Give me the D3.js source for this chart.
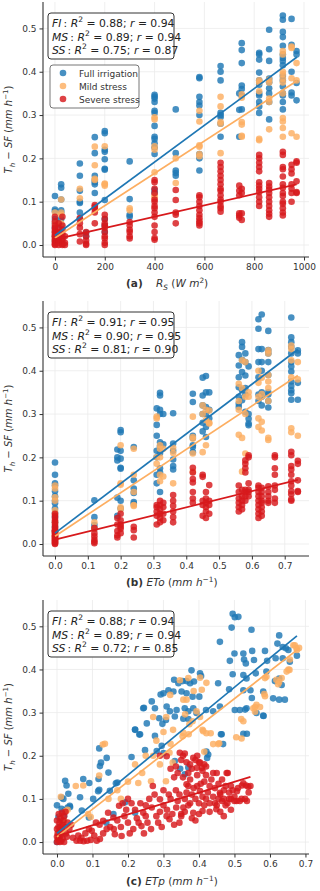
<!DOCTYPE html>
<html><head><meta charset="utf-8">
<script src="https://cdn.jsdelivr.net/npm/d3@7"></script>
<style>body{margin:0;background:#fff}svg{display:block}text{font-family:"DejaVu Sans",sans-serif;white-space:pre}</style>
</head><body><svg id="c" width="320" height="891"></svg>
<script>
// ---------- DATA ----------
const seriesNames = ["Full irrigation", "Mild stress", "Severe stress"];
const yTicks = [0, 0.1, 0.2, 0.3, 0.4, 0.5];
const xTicksA = [0, 200, 400, 600, 800, 1000];
const xTicksB = [0, 0.1, 0.2, 0.3, 0.4, 0.5, 0.6, 0.7];
const xTicksC = [0, 0.1, 0.2, 0.3, 0.4, 0.5, 0.6, 0.7];

// panel (a): Rs columns [Rs, [Th-SF values]]
const rsFI = [
[0,[0.113,0.082,0.078,0.06,0.05,0.04,0.03,0.02,0.01]],
[25,[0.14,0.132,0.105,0.08,0.075,0.06,0.045,0.03,0.02]],
[100,[0.188,0.16,0.125,0.1,0.097,0.075,0.06]],
[125,[0.028,0.02]],
[160,[0.249,0.212,0.16,0.15,0.145,0.14,0.12]],
[200,[0.263,0.258,0.22,0.215,0.198,0.176,0.174,0.104,0.06,0.045,0.03]],
[300,[0.193,0.106,0.07,0.065]],
[400,[0.347,0.343,0.338,0.33,0.31,0.305,0.275,0.25,0.245,0.235,0.225,0.21,0.127,0.12]],
[485,[0.313,0.212,0.172,0.166,0.16]],
[580,[0.388,0.385,0.342,0.33,0.322,0.3,0.21,0.2,0.172]],
[665,[0.413,0.4,0.38,0.305,0.3,0.295,0.28,0.25]],
[740,[0.35,0.312,0.25]],
[750,[0.466,0.45,0.42,0.368,0.36,0.345,0.313]],
[820,[0.444,0.44,0.428,0.398,0.38,0.37,0.35,0.345,0.33,0.32,0.305]],
[860,[0.497,0.452,0.425,0.384,0.376,0.362,0.35,0.33,0.29]],
[915,[0.53,0.52,0.492,0.48,0.46,0.44,0.432,0.425,0.415,0.39,0.38,0.366,0.35,0.345,0.33,0.313]],
[950,[0.522,0.462,0.4,0.352,0.345]],
[970,[0.448,0.44,0.374,0.334]]
];
const rsMS = [
[0,[0.075,0.05,0.03,0.02,0.01]],
[25,[0.105,0.075,0.07,0.05]],
[100,[0.13,0.108]],
[160,[0.227,0.184,0.153,0.15]],
[200,[0.228,0.142,0.14,0.137]],
[300,[0.085,0.08]],
[400,[0.295,0.29,0.228,0.22,0.168,0.115,0.11]],
[485,[0.2,0.143]],
[580,[0.31,0.285,0.23,0.227,0.21,0.205]],
[665,[0.342,0.32,0.284,0.28,0.212]],
[750,[0.348,0.34,0.284,0.278,0.252,0.25]],
[820,[0.38,0.375,0.355,0.245,0.242]],
[860,[0.382,0.375,0.338,0.33,0.267]],
[915,[0.448,0.44,0.4,0.394,0.384,0.375,0.35,0.293,0.285,0.27,0.25]],
[950,[0.458,0.455,0.385,0.258]],
[970,[0.42,0.38,0.25]]
];
const rsSS = [
[0,[0.065,0.055,0.045,0.04,0.035,0.03,0.025,0.02,0.015,0.01,0.005,0.0,0.002]],
[15,[0.05,0.04,0.03,0.025,0.02,0.015,0.01,0.005,0.0]],
[30,[0.065,0.045,0.035,0.025,0.015,0.01,0.003,0.0]],
[40,[0.02,0.005,0.0]],
[100,[0.062,0.05,0.04,0.025,0.008]],
[125,[0.03,0.02,0.01,0.003,0.0]],
[160,[0.092,0.088,0.083,0.075,0.05]],
[200,[0.07,0.06,0.05,0.045,0.04,0.03,0.02,0.015,0.005,0.0]],
[300,[0.053,0.045,0.035,0.03,0.02,0.015]],
[400,[0.15,0.145,0.13,0.12,0.105,0.1,0.09,0.085,0.075,0.065,0.045,0.03,0.016,0.012]],
[485,[0.127,0.104,0.075,0.07,0.05]],
[580,[0.115,0.11,0.1,0.09,0.08,0.07,0.062,0.055,0.05,0.045]],
[665,[0.19,0.18,0.17,0.16,0.15,0.14,0.13,0.125,0.115,0.105,0.1,0.09,0.085,0.077]],
[740,[0.137,0.125,0.115,0.073,0.068,0.063]],
[750,[0.13,0.12,0.073,0.058]],
[820,[0.208,0.2,0.19,0.18,0.17,0.145,0.137,0.13,0.122,0.11,0.1,0.09]],
[860,[0.143,0.135,0.128,0.12,0.11,0.1,0.09,0.08,0.072,0.065]],
[915,[0.215,0.208,0.18,0.175,0.158,0.14,0.132,0.12,0.113,0.1,0.095,0.085,0.075,0.068]],
[950,[0.185,0.175,0.165,0.14,0.13,0.12,0.1]],
[970,[0.193,0.19,0.147,0.122,0.12]]
];

// panel (b): ETo columns
const etoFI = [
[0,[0.188,0.16,0.14,0.135,0.122,0.11,0.1,0.094,0.082,0.072,0.063,0.05,0.04,0.03]],
[0.12,[0.101,0.062,0.044,0.035]],
[0.19,[0.218,0.2,0.193,0.107,0.065]],
[0.2,[0.263,0.258,0.215,0.197,0.176,0.174,0.1,0.082]],
[0.24,[0.224,0.147,0.128,0.118,0.097,0.093]],
[0.31,[0.313,0.275,0.25,0.215,0.2,0.16,0.14]],
[0.32,[0.349,0.343,0.31,0.3,0.235,0.225,0.21,0.175,0.165,0.12]],
[0.33,[0.3,0.23]],
[0.36,[0.302,0.232,0.215,0.195,0.18,0.172]],
[0.42,[0.347,0.328,0.25,0.245,0.228,0.224,0.212]],
[0.45,[0.384,0.343,0.32,0.3,0.28,0.26]],
[0.46,[0.388,0.35,0.316,0.3,0.27,0.247]],
[0.47,[0.35,0.31,0.29]],
[0.56,[0.436,0.412,0.385,0.362,0.34,0.324,0.316]],
[0.57,[0.466,0.455,0.425,0.397,0.355,0.332]],
[0.58,[0.44,0.42,0.389,0.36,0.345,0.305]],
[0.59,[0.41,0.3,0.289,0.278,0.274]],
[0.62,[0.519,0.497,0.45,0.42,0.385,0.345,0.33]],
[0.63,[0.53,0.45,0.42,0.4,0.35,0.34,0.32]],
[0.65,[0.492,0.448,0.44,0.42,0.39,0.35,0.345,0.33,0.315]],
[0.72,[0.523,0.477,0.466,0.455,0.44,0.42,0.41,0.398,0.375,0.365,0.355,0.348,0.333]],
[0.74,[0.447,0.44,0.372,0.333]]
];
const etoMS = [
[0,[0.135,0.128,0.108,0.1,0.078,0.07,0.05,0.03,0.02]],
[0.12,[0.05,0.035]],
[0.2,[0.228,0.14,0.137,0.085,0.08]],
[0.24,[0.22,0.16,0.12,0.09,0.088]],
[0.31,[0.294,0.29,0.2,0.185]],
[0.32,[0.228,0.22,0.2,0.16,0.145]],
[0.33,[0.22,0.156]],
[0.36,[0.222,0.21,0.14]],
[0.42,[0.294,0.247,0.243,0.209,0.167]],
[0.45,[0.32,0.3,0.212]],
[0.46,[0.31,0.286,0.228]],
[0.47,[0.308,0.28,0.278]],
[0.56,[0.37,0.33,0.31,0.252]],
[0.57,[0.424,0.36,0.245,0.167]],
[0.58,[0.42,0.34,0.3,0.209]],
[0.59,[0.35,0.34]],
[0.62,[0.4,0.372,0.34,0.29,0.27]],
[0.63,[0.384,0.346,0.282,0.262]],
[0.65,[0.447,0.44,0.39,0.375,0.36,0.33,0.245,0.24]],
[0.72,[0.458,0.45,0.424,0.385,0.267,0.258]],
[0.74,[0.42,0.38,0.25]]
];
const etoSS = [
[0,[0.07,0.065,0.06,0.055,0.05,0.045,0.04,0.036,0.032,0.028,0.024,0.02,0.016,0.012,0.008,0.004,0.0,0.002,0.03,0.01,0.006,0.014,0.018,0.026]],
[0.12,[0.037,0.025,0.018,0.01,0.005,0.002]],
[0.19,[0.06,0.045,0.03,0.02,0.015]],
[0.2,[0.07,0.055,0.045,0.04,0.035,0.025]],
[0.24,[0.04,0.032,0.015]],
[0.31,[0.09,0.085,0.075,0.065,0.045]],
[0.32,[0.1,0.09,0.08,0.07,0.06,0.05]],
[0.33,[0.095,0.085,0.07,0.055]],
[0.36,[0.113,0.1,0.088,0.075,0.062,0.05]],
[0.42,[0.176,0.165,0.15,0.142,0.12,0.105,0.095]],
[0.45,[0.16,0.155,0.1,0.09,0.065]],
[0.46,[0.12,0.105,0.095,0.085,0.075,0.06]],
[0.47,[0.136,0.1,0.09,0.07]],
[0.56,[0.135,0.12,0.105,0.095,0.085,0.075]],
[0.57,[0.125,0.11,0.1,0.09,0.08]],
[0.58,[0.193,0.185,0.175,0.165,0.125,0.12,0.11,0.1]],
[0.59,[0.205,0.2,0.14,0.125,0.12,0.11]],
[0.62,[0.135,0.13,0.12,0.11,0.1,0.09,0.08,0.07,0.06]],
[0.63,[0.13,0.12,0.11,0.1,0.095,0.085,0.075,0.065]],
[0.65,[0.133,0.12,0.11,0.1,0.095]],
[0.67,[0.205,0.2,0.175,0.16,0.135,0.125,0.105,0.095]],
[0.72,[0.213,0.205,0.18,0.172,0.16,0.145,0.135,0.122,0.115,0.103,0.1]],
[0.74,[0.192,0.185,0.147,0.122,0.12]]
];

// panel (c): [ETp, Th-SF] pairs
const etpFI = [
[0.0,0.0],[0.005,0.01],[0.01,0.02],[0.008,0.035],[0.015,0.03],[0.004,0.058],[0.012,0.055],[0.02,0.06],[0.013,0.077],[0.022,0.073],[0.03,0.08],[0.037,0.081],[0.023,0.142],[0.027,0.131],[0.032,0.112],[0.0,0.085],[0.018,0.1],[0.013,0.103],[0.036,0.084],
[0.065,0.104],[0.07,0.073],[0.074,0.146],[0.09,0.057],[0.102,0.1],[0.117,0.146],[0.119,0.121],[0.119,0.217],[0.124,0.184],[0.145,0.161],[0.149,0.119],[0.17,0.138],[0.159,0.065],[0.166,0.136],[0.121,0.176],[0.14,0.195],[0.091,0.137],[0.116,0.118],[0.192,0.092],[0.22,0.068],[0.139,0.045],
[0.21,0.197],[0.248,0.213],[0.36,0.157],[0.421,0.21],[0.423,0.195],[0.332,0.188],[0.347,0.17],[0.37,0.173],[0.426,0.203],[0.464,0.25],[0.468,0.227],
[0.22,0.261],[0.234,0.25],[0.245,0.311],[0.253,0.275],[0.276,0.246],[0.295,0.223],[0.281,0.211],[0.3,0.206],[0.292,0.342],
[0.495,0.529],[0.501,0.521],[0.511,0.522],[0.492,0.497],[0.548,0.492],[0.459,0.464],[0.626,0.479],[0.621,0.46],[0.645,0.449],[0.652,0.445],[0.636,0.452],[0.5,0.437],[0.525,0.437],[0.55,0.443],[0.586,0.443],[0.487,0.42],[0.527,0.423],[0.532,0.414],[0.555,0.422],[0.592,0.42],[0.616,0.426],[0.636,0.426],[0.656,0.418],[0.495,0.389],[0.525,0.387],[0.534,0.379],[0.56,0.391],[0.59,0.395],[0.626,0.379],[0.614,0.373],[0.633,0.364],[0.379,0.398],[0.403,0.391],[0.406,0.385],[0.33,0.376],[0.354,0.373],[0.342,0.368],[0.365,0.373],[0.375,0.368],[0.386,0.372],
[0.3,0.345],[0.314,0.352],[0.328,0.349],[0.351,0.349],[0.365,0.345],[0.382,0.337],[0.401,0.337],[0.454,0.368],[0.485,0.354],[0.525,0.352],[0.545,0.352],[0.581,0.349],[0.609,0.333],[0.626,0.33],[0.642,0.33],
[0.243,0.31],[0.267,0.326],[0.276,0.31],[0.309,0.314],[0.318,0.303],[0.337,0.306],[0.36,0.31],[0.37,0.303],[0.384,0.31],[0.393,0.299],[0.42,0.306],[0.44,0.303],[0.459,0.314],[0.501,0.306],[0.515,0.306],[0.534,0.31],[0.562,0.299],[0.581,0.293],
[0.22,0.26],[0.232,0.249],[0.288,0.287],[0.297,0.274],[0.307,0.283],[0.332,0.291],[0.356,0.286],[0.37,0.285],
[0.525,0.251],[0.535,0.251],[0.462,0.25],[0.53,0.307],[0.549,0.334],[0.582,0.292],[0.676,0.432]
];
const etpMS = [
[0.011,0.105],[0.005,0.02],[0.01,0.03],[0.015,0.045],[0.012,0.061],[0.025,0.072],[0.02,0.05],[0.008,0.01],[0.03,0.075],[0.018,0.04],[0.012,0.022],[0.003,0.005],
[0.074,0.131],[0.129,0.226],[0.088,0.065],[0.095,0.058],[0.145,0.1],[0.053,0.13],[0.119,0.154],[0.265,0.141],[0.307,0.141],[0.326,0.184],[0.317,0.207],[0.229,0.137],[0.271,0.2],[0.327,0.26],[0.135,0.228],[0.18,0.1],[0.2,0.14],
[0.17,0.12],[0.22,0.18],[0.25,0.2],[0.28,0.235],[0.3,0.255],[0.29,0.18],[0.24,0.16],[0.271,0.29],
[0.67,0.456],[0.675,0.449],[0.656,0.423],[0.647,0.395],[0.655,0.399],[0.626,0.371],[0.623,0.366],[0.59,0.383],[0.584,0.343],[0.562,0.318],[0.553,0.31],[0.519,0.285],[0.505,0.243],
[0.346,0.375],[0.403,0.381],[0.421,0.369],[0.408,0.353],[0.385,0.35],[0.365,0.33],[0.319,0.341],[0.308,0.29],[0.403,0.29],[0.382,0.28],[0.373,0.273],[0.41,0.26],[0.421,0.252],[0.433,0.252],[0.457,0.229],[0.354,0.245],[0.32,0.228],
[0.356,0.33],[0.37,0.38],[0.393,0.303],[0.361,0.296],[0.356,0.253],[0.371,0.25],[0.412,0.257],[0.44,0.227],[0.454,0.227],[0.415,0.209],[0.52,0.24],[0.525,0.28],[0.558,0.313],[0.572,0.313],[0.558,0.302],[0.586,0.338],[0.586,0.38],[0.618,0.376],[0.633,0.38],[0.652,0.4],[0.666,0.456],[0.676,0.445],[0.682,0.45]
];
const etpSS = [
[0.0,0.0],[0.003,0.005],[0.006,0.01],[0.01,0.015],[0.002,0.02],[0.008,0.025],[0.012,0.03],[0.004,0.035],[0.015,0.04],[0.007,0.045],[0.018,0.05],[0.01,0.055],[0.02,0.06],[0.005,0.065],[0.022,0.035],[0.025,0.02],[0.016,0.008],[0.02,0.0],[0.012,0.002],[0.028,0.012],[0.03,0.045],[0.0,0.03],[0.0,0.05],[0.024,0.07],[0.035,0.03],[0.0,0.012],[0.008,0.0],[0.014,0.068],
[0.055,0.003],[0.065,0.003],[0.069,0.01],[0.075,0.002],[0.085,0.003],[0.095,0.005],[0.098,0.026],[0.105,0.015],[0.112,0.003],[0.121,0.007],[0.13,0.02],
[0.13,0.049],[0.144,0.068],[0.159,0.057],[0.175,0.084],[0.163,0.018],[0.182,0.014],[0.215,0.03],[0.238,0.037],[0.243,0.068],[0.267,0.08],[0.29,0.099],[0.309,0.06],[0.317,0.053],[0.336,0.08],[0.356,0.08],[0.384,0.068],[0.12,0.04],[0.15,0.035],[0.19,0.06],[0.2,0.045],[0.21,0.09],[0.225,0.055],[0.255,0.045],[0.26,0.1],[0.28,0.06],[0.295,0.035],[0.3,0.12],[0.27,0.13],[0.3,0.085],[0.32,0.1],[0.33,0.04],[0.345,0.11],[0.35,0.06],[0.36,0.1],[0.37,0.13],[0.375,0.09],[0.38,0.11],[0.39,0.05],[0.4,0.09],[0.403,0.118],[0.41,0.072],[0.42,0.1],[0.43,0.13],[0.44,0.16],[0.445,0.09],[0.449,0.076],[0.459,0.114],[0.465,0.095],[0.47,0.12],[0.481,0.16],[0.485,0.1],[0.49,0.13],[0.5,0.105],[0.506,0.095],[0.507,0.118],[0.52,0.1],[0.521,0.131],[0.533,0.131],[0.54,0.115],[0.545,0.13],[0.365,0.134],[0.35,0.065],[0.395,0.13],[0.415,0.14],[0.43,0.07],[0.46,0.07],[0.475,0.085],[0.49,0.075],[0.47,0.06],[0.455,0.1],
[0.346,0.207],[0.355,0.2],[0.384,0.195],[0.394,0.172],[0.4,0.185],[0.408,0.172],[0.415,0.18],[0.38,0.17],[0.37,0.16],[0.45,0.16],[0.478,0.16],[0.525,0.136],[0.539,0.128],[0.309,0.199],[0.32,0.17],[0.33,0.15],[0.29,0.2],[0.403,0.184],
[0.31,0.075],[0.315,0.11],[0.325,0.065],[0.335,0.12],[0.34,0.095],[0.345,0.045],[0.355,0.15],[0.36,0.07],[0.365,0.115],[0.37,0.085],[0.375,0.145],[0.38,0.055],[0.385,0.125],[0.39,0.1],[0.395,0.155],[0.4,0.065],[0.405,0.135],[0.41,0.105],[0.415,0.085],[0.42,0.155],[0.425,0.115],[0.43,0.09],[0.435,0.145],[0.44,0.105],[0.445,0.125],[0.45,0.085],[0.455,0.135],[0.46,0.11],[0.465,0.145],[0.47,0.1],[0.475,0.13],[0.48,0.09],[0.485,0.115],[0.49,0.1],[0.495,0.12],[0.5,0.095],[0.51,0.125],[0.515,0.095],[0.53,0.1],[0.535,0.095],
[0.35,0.19],[0.36,0.205],[0.365,0.185],[0.375,0.18],[0.39,0.19],[0.395,0.2],[0.41,0.165],[0.42,0.175],[0.335,0.175],[0.34,0.16],
[0.16,0.03],[0.17,0.05],[0.18,0.035],[0.195,0.075],[0.205,0.02],[0.22,0.075],[0.23,0.045],[0.245,0.02],[0.25,0.06],[0.265,0.03],[0.275,0.11],[0.285,0.045],[0.29,0.07],[0.25,0.085],[0.235,0.09],[0.2,0.1],[0.185,0.09],[0.14,0.03],[0.11,0.045],[0.09,0.03],[0.08,0.02],[0.06,0.015],[0.045,0.01],[0.04,0.04]
];

// fitted lines [x0, y0, x1, y1] per series
const fitRs  = [[0,0.022,972,0.434],[0,0.016,972,0.379],[0,0.013,970,0.140]];
const fitEto = [[0,0.025,0.74,0.449],[0,0.018,0.74,0.389],[0,0.010,0.74,0.148]];
const fitEtp = [[0,0.020,0.676,0.478],[0,0.012,0.682,0.449],[0.005,0.015,0.545,0.151]];

// statistics [label, R2, r]
const statsA = [["FI","0.88","0.94"],["MS","0.89","0.94"],["SS","0.75","0.87"]];
const statsB = [["FI","0.91","0.95"],["MS","0.90","0.95"],["SS","0.81","0.90"]];
const statsC = [["FI","0.88","0.94"],["MS","0.89","0.94"],["SS","0.72","0.85"]];

// ---------- DRAW ----------
const colors = ["#1f77b4", "#fdae61", "#d7191c"];
const svg = d3.select("#c");
const L = 43, R = 309;

function rich(sel, parts, size){
  let shift = 0;
  parts.forEach(p => {
    const target = p.sub ? size*0.25 : (p.sup ? -size*0.42 : 0);
    const ts = sel.append("tspan").text(p.t).attr("dy", target - shift)
      .style("font-size", ((p.sub||p.sup) ? size*0.7 : size) + "px");
    if (p.i) ts.style("font-style", "italic");
    if (p.b) ts.style("font-weight", "bold");
    shift = target;
  });
}

const cols = d => d.flatMap(([x, ys]) => ys.map(y => [x, y]));

const panels = [
  {top:2, bottom:257, xdom:[-48,1020], xticks:xTicksA, fmt:d3.format("d"),
   data:[cols(rsFI), cols(rsMS), cols(rsSS)], fit:fitRs, stats:statsA, legend:true,
   xlabel:[{t:"(a)",b:1},{t:"    "},{t:"R",i:1},{t:"S",i:1,sub:1},{t:" ("},{t:"W",i:1},{t:" "},{t:"m",i:1},{t:"2",sup:1},{t:")"}], lx:126, ly:287},
  {top:301, bottom:556, xdom:[-0.0366,0.774], xticks:xTicksB, fmt:d3.format(".1f"),
   data:[cols(etoFI), cols(etoMS), cols(etoSS)], fit:fitEto, stats:statsB, legend:false,
   xlabel:[{t:"(b)",b:1},{t:" "},{t:"ETo",i:1},{t:" ("},{t:"mm",i:1},{t:" "},{t:"h",i:1},{t:"−1",sup:1},{t:")"}], lx:126, ly:586},
  {top:600, bottom:854, xdom:[-0.0394,0.71], xticks:xTicksC, fmt:d3.format(".1f"),
   data:[etpFI, etpMS, etpSS], fit:fitEtp, stats:statsC, legend:false,
   xlabel:[{t:"(c)",b:1},{t:" "},{t:"ETp",i:1},{t:" ("},{t:"mm",i:1},{t:" "},{t:"h",i:1},{t:"−1",sup:1},{t:")"}], lx:126, ly:885}
];

panels.forEach(p => {
  const x = d3.scaleLinear().domain(p.xdom).range([L, R]);
  const y = d3.scaleLinear().domain([-0.0277, 0.561]).range([p.bottom, p.top]);
  const g = svg.append("g");

  // grid
  g.selectAll(".gx").data(p.xticks).join("line")
    .attr("x1", d => x(d)).attr("x2", d => x(d)).attr("y1", p.top).attr("y2", p.bottom)
    .attr("stroke", "#ebebeb").attr("stroke-width", 0.8);
  g.selectAll(".gy").data(yTicks).join("line")
    .attr("x1", L).attr("x2", R).attr("y1", d => y(d)).attr("y2", d => y(d))
    .attr("stroke", "#ebebeb").attr("stroke-width", 0.8);

  // points
  p.data.forEach((pts, si) => {
    g.append("g").selectAll("circle").data(pts).join("circle")
      .attr("cx", d => x(d[0])).attr("cy", d => y(d[1])).attr("r", 3.3)
      .attr("fill", colors[si]).attr("fill-opacity", 0.82);
  });
  // fit lines
  p.fit.forEach((f, si) => {
    g.append("line").attr("x1", x(f[0])).attr("y1", y(f[1])).attr("x2", x(f[2])).attr("y2", y(f[3]))
      .attr("stroke", colors[si]).attr("stroke-width", 1.7);
  });

  // axes
  const ax = g.append("g").attr("transform", `translate(0,${p.bottom})`)
    .call(d3.axisBottom(x).tickValues(p.xticks).tickFormat(p.fmt).tickSize(3.5).tickSizeOuter(0).tickPadding(3));
  const ay = g.append("g").attr("transform", `translate(${L},0)`)
    .call(d3.axisLeft(y).tickValues(yTicks).tickFormat(d3.format(".1f")).tickSize(3.5).tickSizeOuter(0).tickPadding(3));
  [ax, ay].forEach(a => {
    a.select(".domain").attr("stroke", "#333").attr("stroke-width", 1.1);
    a.selectAll(".tick line").attr("stroke", "#333");
    a.selectAll(".tick text").attr("fill", "#333").style("font-size", "9px").style("font-family", '"DejaVu Sans"');
  });
  ay.select(".domain").attr("d", `M0,${p.bottom}V${p.top}`);
  ax.select(".domain").attr("d", `M${L},0H${R}`);

  // y label
  const yl = g.append("text").attr("transform", `translate(12,${(p.top+p.bottom)/2}) rotate(-90)`)
    .attr("text-anchor", "middle").attr("fill", "#333");
  rich(yl, [{t:"T",i:1},{t:"h",i:1,sub:1},{t:" − "},{t:"SF",i:1},{t:" ("},{t:"mm",i:1},{t:" "},{t:"h",i:1},{t:"−1",sup:1},{t:")"}], 10);

  // x label
  const xl = g.append("text").attr("x", p.lx).attr("y", p.ly).attr("fill", "#333");
  rich(xl, p.xlabel, 10.5);

  // stats box
  g.append("rect").attr("x", 48).attr("y", p.top + 11).attr("width", 126).attr("height", 46)
    .attr("rx", 3).attr("fill", "#fff").attr("stroke", "#333").attr("stroke-width", 1);
  p.stats.forEach((s, i) => {
    const t = g.append("text").attr("x", 52).attr("y", p.top + 25 + i*13.5).attr("fill", "#222");
    rich(t, [{t:s[0],i:1},{t:"\u2009: "},{t:"R",i:1},{t:"2",sup:1},{t:" = " + s[1] + "; "},{t:"r",i:1},{t:" = " + s[2]}], 10.8);
  });

  // legend
  if (p.legend) {
    g.append("rect").attr("x", 50).attr("y", 65).attr("width", 89).attr("height", 43)
      .attr("rx", 3).attr("fill", "#fff").attr("stroke", "#666").attr("stroke-width", 0.9);
    seriesNames.forEach((n, i) => {
      g.append("circle").attr("cx", 63).attr("cy", 73 + i*13).attr("r", 3.3)
        .attr("fill", colors[i]).attr("fill-opacity", 0.82);
      g.append("text").attr("x", 79).attr("y", 76.5 + i*13).attr("fill", "#333")
        .style("font-size", "9px").text(n);
    });
  }
});
</script></body></html>
